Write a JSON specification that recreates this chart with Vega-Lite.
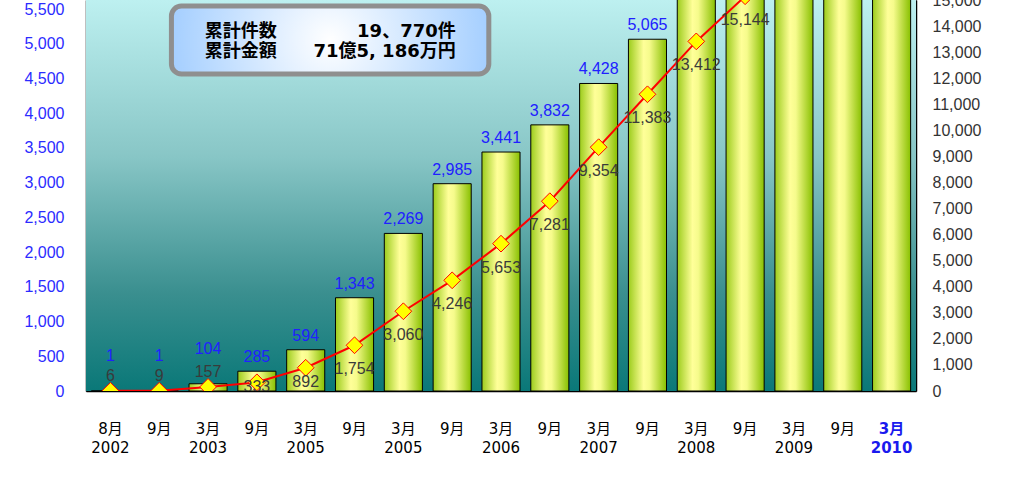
{
  "$schema": "https://vega.github.io/schema/vega-lite/v6.json",
  "width": 830,
  "height": 391,
  "autosize": {"type": "none"},
  "padding": {"left": 86, "top": 0, "right": 96, "bottom": 86},
  "background": "white",
  "config": {"view": {"stroke": null}, "font": "Liberation Sans"},
  "data": {"values": [
    {"k": "01|8月|2002", "amt": 1, "cnt": 6},
    {"k": "02|9月", "amt": 1, "cnt": 9},
    {"k": "03|3月|2003", "amt": 104, "cnt": 157},
    {"k": "04|9月", "amt": 285, "cnt": 333},
    {"k": "05|3月|2005", "amt": 594, "cnt": 892},
    {"k": "06|9月", "amt": 1343, "cnt": 1754},
    {"k": "07|3月|2005", "amt": 2269, "cnt": 3060},
    {"k": "08|9月", "amt": 2985, "cnt": 4246},
    {"k": "09|3月|2006", "amt": 3441, "cnt": 5653},
    {"k": "10|9月", "amt": 3832, "cnt": 7281},
    {"k": "11|3月|2007", "amt": 4428, "cnt": 9354},
    {"k": "12|9月", "amt": 5065, "cnt": 11383},
    {"k": "13|3月|2008", "amt": 5650, "cnt": 13412},
    {"k": "14|9月", "amt": 6150, "cnt": 15144},
    {"k": "15|3月|2009", "amt": 6550, "cnt": 16700},
    {"k": "16|9月", "amt": 6900, "cnt": 18250},
    {"k": "17|3月|2010", "amt": 7152, "cnt": 19770}
  ]},
  "layer": [
    {
      "layer": [
        {
          "data": {"values": [{}]},
          "mark": {"type": "rect", "fill": {"gradient": "linear", "x1": 0, "y1": 0, "x2": 0, "y2": 1, "stops": [
            {"offset": 0, "color": "#bdf0f0"},
            {"offset": 0.4, "color": "#88c6c6"},
            {"offset": 0.75, "color": "#3a8f8f"},
            {"offset": 1, "color": "#0a7878"}
          ]}},
          "encoding": {}
        },
        {
          "mark": {"type": "bar", "clip": true, "stroke": "#000000", "strokeWidth": 1,
            "fill": {"gradient": "linear", "x1": 0, "y1": 0, "x2": 1, "y2": 0, "stops": [
              {"offset": 0, "color": "#9ccc1c"},
              {"offset": 0.4, "color": "#ffff99"},
              {"offset": 0.55, "color": "#f6fb8c"},
              {"offset": 1, "color": "#88c000"}
            ]}},
          "encoding": {
            "x": {"field": "k", "type": "ordinal", "sort": null,
              "scale": {"paddingInner": 0.22, "paddingOuter": 0.11},
              "axis": {"title": null, "labelAngle": 0, "ticks": false, "domainColor": "#000000", "domainWidth": 1.5,
                "labelOverlap": false,
                "labelExpr": "slice(split(datum.value, '|'), 1)",
                "labelFont": "DejaVu Sans, Noto Sans CJK JP", "labelFontSize": 15, "labelColor": {"condition": {"test": "datum.value == '17|3月|2010'", "value": "#1a1aee"}, "value": "#000000"},
                "labelFontWeight": {"condition": {"test": "datum.value == '17|3月|2010'", "value": "bold"}, "value": "normal"},
                "labelBaseline": "top", "labelPadding": 30, "labelLineHeight": 19}},
            "y": {"field": "amt", "type": "quantitative",
              "scale": {"domain": [0, 5630], "nice": false},
              "axis": {"title": null, "grid": false, "labelOverlap": false, "tickCount": 30,
                "values": [0, 500, 1000, 1500, 2000, 2500, 3000, 3500, 4000, 4500, 5000, 5500],
                "format": ",d", "labelColor": "#2b2bff", "labelFontSize": 16, "tickSize": -5, "tickColor": "#000000",
                "domainColor": "#000000", "domainWidth": 1.5, "labelPadding": 27}}
          }
        },
        {
          "transform": [{"filter": "datum.k < '04'"}],
          "mark": {"type": "text", "clip": true, "dy": -35, "fontSize": 16, "color": "#2020ff"},
          "encoding": {
            "x": {"field": "k", "type": "ordinal", "sort": null},
            "y": {"field": "amt", "type": "quantitative"},
            "text": {"field": "amt", "type": "quantitative", "format": ",d"}
          }
        },
        {
          "transform": [{"filter": "datum.k >= '04'"}],
          "mark": {"type": "text", "clip": true, "dy": -14, "fontSize": 16, "color": "#2020ff"},
          "encoding": {
            "x": {"field": "k", "type": "ordinal", "sort": null},
            "y": {"field": "amt", "type": "quantitative"},
            "text": {"field": "amt", "type": "quantitative", "format": ",d"}
          }
        },
        {
          "data": {"values": [{}]},
          "mark": {"type": "rect", "cornerRadius": 10, "stroke": "#8f8f8f", "strokeWidth": 5,
            "fill": {"gradient": "radial", "x1": 0.5, "y1": 0.5, "x2": 0.5, "y2": 0.5, "r1": 0, "r2": 0.55, "stops": [
              {"offset": 0, "color": "#ffffff"},
              {"offset": 1, "color": "#9ccaff"}
            ]}},
          "encoding": {
            "x": {"datum": "02|9月", "bandPosition": 0.82},
            "x2": {"datum": "09|3月|2006", "bandPosition": 0.18},
            "y": {"datum": 5544},
            "y2": {"datum": 4564}
          }
        },
        {
          "data": {"values": [{}]},
          "mark": {"type": "text", "text": "累計件数", "align": "left", "dx": -101, "font": "DejaVu Sans, Noto Sans CJK JP", "fontWeight": "bold", "fontSize": 18, "color": "#000000"},
          "encoding": {"x": {"datum": "05|3月|2005"}, "y": {"datum": 5169}}
        },
        {
          "data": {"values": [{}]},
          "mark": {"type": "text", "text": "19、770件", "align": "right", "dx": 150, "font": "DejaVu Sans, Noto Sans CJK JP", "fontWeight": "bold", "fontSize": 18, "color": "#000000"},
          "encoding": {"x": {"datum": "05|3月|2005"}, "y": {"datum": 5169}}
        },
        {
          "data": {"values": [{}]},
          "mark": {"type": "text", "text": "累計金額", "align": "left", "dx": -101, "font": "DejaVu Sans, Noto Sans CJK JP", "fontWeight": "bold", "fontSize": 18, "color": "#000000"},
          "encoding": {"x": {"datum": "05|3月|2005"}, "y": {"datum": 4881}}
        },
        {
          "data": {"values": [{}]},
          "mark": {"type": "text", "text": "71億5, 186万円", "align": "right", "dx": 150, "font": "DejaVu Sans, Noto Sans CJK JP", "fontWeight": "bold", "fontSize": 18, "color": "#000000"},
          "encoding": {"x": {"datum": "05|3月|2005"}, "y": {"datum": 4881}}
        }
      ]
    },
    {
      "layer": [
        {
          "mark": {"type": "line", "clip": true, "color": "#ff0000", "strokeWidth": 2},
          "encoding": {
            "x": {"field": "k", "type": "ordinal", "sort": null},
            "y": {"field": "cnt", "type": "quantitative",
              "scale": {"domain": [0, 15000], "nice": false},
              "axis": {"title": null, "orient": "right", "grid": false, "labelOverlap": false, "tickCount": 30,
                "values": [0, 1000, 2000, 3000, 4000, 5000, 6000, 7000, 8000, 9000, 10000, 11000, 12000, 13000, 14000, 15000],
                "format": ",d", "labelColor": "#333333", "labelFontSize": 16, "tickSize": -5, "tickColor": "#000000",
                "domainColor": "#000000", "domainWidth": 1.5, "labelPadding": 21}}
          }
        },
        {
          "mark": {"type": "point", "clip": true, "shape": "diamond", "filled": true, "fill": "#ffff00", "stroke": "#ff0000", "strokeWidth": 1, "size": 280, "opacity": 1},
          "encoding": {
            "x": {"field": "k", "type": "ordinal", "sort": null},
            "y": {"field": "cnt", "type": "quantitative"}
          }
        },
        {
          "transform": [{"filter": "datum.k < '04'"}],
          "mark": {"type": "text", "clip": true, "dy": -15, "fontSize": 16, "color": "#3a3a3a"},
          "encoding": {
            "x": {"field": "k", "type": "ordinal", "sort": null},
            "y": {"field": "cnt", "type": "quantitative"},
            "text": {"field": "cnt", "type": "quantitative", "format": ",d"}
          }
        },
        {
          "transform": [{"filter": "datum.k == '04|9月'"}],
          "mark": {"type": "text", "clip": true, "dy": 5, "fontSize": 16, "color": "#3a3a3a"},
          "encoding": {
            "x": {"field": "k", "type": "ordinal", "sort": null},
            "y": {"field": "cnt", "type": "quantitative"},
            "text": {"field": "cnt", "type": "quantitative", "format": ",d"}
          }
        },
        {
          "transform": [{"filter": "datum.k == '05|3月|2005'"}],
          "mark": {"type": "text", "clip": true, "dy": 14, "fontSize": 16, "color": "#3a3a3a"},
          "encoding": {
            "x": {"field": "k", "type": "ordinal", "sort": null},
            "y": {"field": "cnt", "type": "quantitative"},
            "text": {"field": "cnt", "type": "quantitative", "format": ",d"}
          }
        },
        {
          "transform": [{"filter": "datum.k >= '06'"}],
          "mark": {"type": "text", "clip": true, "dy": 24, "fontSize": 16, "color": "#3a3a3a"},
          "encoding": {
            "x": {"field": "k", "type": "ordinal", "sort": null},
            "y": {"field": "cnt", "type": "quantitative"},
            "text": {"field": "cnt", "type": "quantitative", "format": ",d"}
          }
        }
      ]
    }
  ],
  "resolve": {"scale": {"y": "independent"}}
}
